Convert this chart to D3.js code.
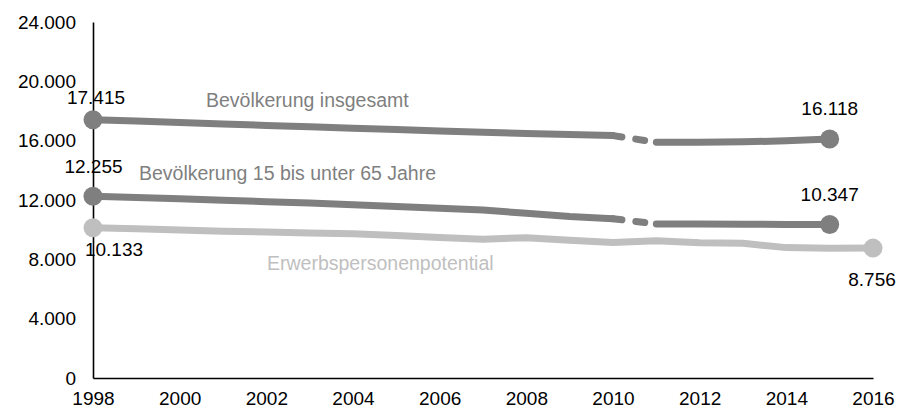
<!DOCTYPE html>
<html>
<head>
<meta charset="utf-8">
<script src="https://cdn.jsdelivr.net/npm/d3@7/dist/d3.min.js"></script>
<style>
  html, body { margin: 0; padding: 0; background: #fff; }
  svg { display: block; font-family: "Liberation Sans", Arial, sans-serif; }
</style>
</head>
<body>
<svg id="chart" width="899" height="410"></svg>
<script>
// Years on the x axis
const years = [1998, 1999, 2000, 2001, 2002, 2003, 2004, 2005, 2006, 2007, 2008, 2009, 2010, 2011, 2012, 2013, 2014, 2015, 2016];

// Population in thousands (null = no value)
const popTotal = [17415, 17320, 17230, 17130, 17030, 16940, 16840, 16750, 16660, 16570, 16490, 16410, 16340, 15890, 15900, 15920, 15990, 16118, null];
const popWorkingAge = [12255, 12170, 12080, 11990, 11890, 11790, 11680, 11560, 11440, 11330, 11100, 10880, 10740, 10383, 10375, 10365, 10355, 10347, null];
const labourPotential = [10133, 10060, 9980, 9900, 9840, 9780, 9730, 9600, 9480, 9360, 9460, 9290, 9130, 9250, 9110, 9080, 8790, 8740, 8756];

// Series names
const seriesNames = ["Bevölkerung insgesamt", "Bevölkerung 15 bis unter 65 Jahre", "Erwerbspersonenpotential"];

// Axis ticks
const yTicks = [0, 4000, 8000, 12000, 16000, 20000, 24000];
const xTicks = [1998, 2000, 2002, 2004, 2006, 2008, 2010, 2012, 2014, 2016];

// Year at which the series are broken (census revision)
const breakFrom = 2010, breakTo = 2011;

const svg = d3.select("#chart");
const x = d3.scaleLinear().domain([1998, 2016]).range([93, 873]);
const y = d3.scaleLinear().domain([0, 24000]).range([378, 22]);

const de = d3.formatLocale({ decimal: ",", thousands: ".", grouping: [3], currency: ["", " €"] });
const fmt = de.format(",.0f");

const dark = "#7f7f7f", light = "#bfbfbf";

// Axes
const yAxis = svg.append("g").attr("transform", `translate(${x(1998)},0)`)
  .call(d3.axisLeft(y).tickValues(yTicks).tickFormat(fmt).tickSize(0).tickPadding(17));
const xAxis = svg.append("g").attr("transform", `translate(0,${y(0)})`)
  .call(d3.axisBottom(x).tickValues(xTicks).tickFormat(d3.format("d")).tickSize(0).tickPadding(14));
[yAxis, xAxis].forEach(g => {
  g.select(".domain").attr("stroke", "#000").attr("stroke-width", 1.6);
  g.selectAll("text").attr("font-size", "19px").attr("fill", "#000")
    .attr("font-family", "'Liberation Sans', Arial, sans-serif");
});

const line = d3.line().x(d => x(d.year)).y(d => y(d.value));
const pts = arr => years.map((yr, i) => ({ year: yr, value: arr[i] })).filter(d => d.value != null);

function drawSeries(arr, color, broken) {
  const all = pts(arr);
  const segs = broken
    ? [all.filter(d => d.year <= breakFrom), all.filter(d => d.year >= breakTo)]
    : [all];
  segs.forEach(s => {
    svg.append("path").datum(s).attr("d", line)
      .attr("fill", "none").attr("stroke", color).attr("stroke-width", 7)
      .attr("stroke-linecap", "round").attr("stroke-linejoin", "round");
  });
  if (broken) {
    const link = all.filter(d => d.year === breakFrom || d.year === breakTo);
    svg.append("path").datum(link).attr("d", line)
      .attr("fill", "none").attr("stroke", color).attr("stroke-width", 7)
      .attr("stroke-linecap", "round").attr("stroke-dasharray", "9,14");
  }
  const ends = [all[0], all[all.length - 1]];
  svg.selectAll(null).data(ends).enter().append("circle")
    .attr("cx", d => x(d.year)).attr("cy", d => y(d.value)).attr("r", 9.5)
    .attr("fill", color);
  return ends;
}

const e1 = drawSeries(popTotal, dark, true);
const e2 = drawSeries(popWorkingAge, dark, true);
const e3 = drawSeries(labourPotential, light, false);

// Value labels at the first and last point of each series
const valueLabels = [
  { p: e1[0], dx: 3, dy: -16 },
  { p: e1[1], dx: 0, dy: -24 },
  { p: e2[0], dx: 0.5, dy: -23.5 },
  { p: e2[1], dx: 0, dy: -24 },
  { p: e3[0], dx: 21, dy: 28 },
  { p: e3[1], dx: -1, dy: 38 }
];
svg.selectAll(null).data(valueLabels).enter().append("text")
  .attr("x", d => x(d.p.year) + d.dx).attr("y", d => y(d.p.value) + d.dy)
  .attr("text-anchor", "middle").attr("font-size", "19px").attr("fill", "#000")
  .text(d => fmt(d.p.value));

// Series names
const nameLabels = [
  { text: seriesNames[0], x: 206, y: 107, color: dark },
  { text: seriesNames[1], x: 139, y: 180, color: dark },
  { text: seriesNames[2], x: 267, y: 270, color: light }
];
svg.selectAll(null).data(nameLabels).enter().append("text")
  .attr("x", d => d.x).attr("y", d => d.y)
  .attr("font-size", "19.5px").attr("fill", d => d.color)
  .text(d => d.text);
</script>
</body>
</html>
